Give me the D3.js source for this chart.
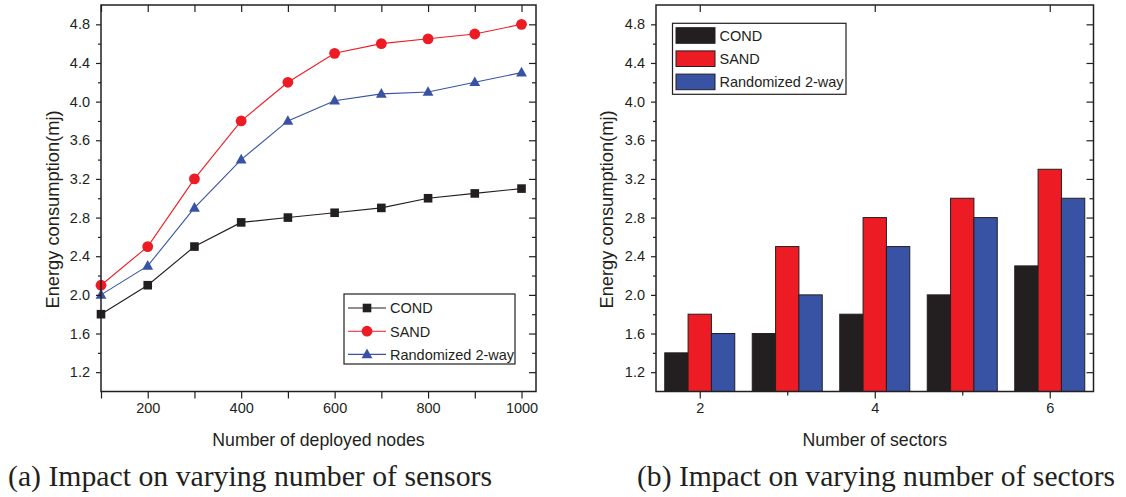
<!DOCTYPE html>
<html><head><meta charset="utf-8">
<script src="https://cdn.jsdelivr.net/npm/d3@7"></script>
<style>
html,body{margin:0;padding:0;background:#fff;}
svg{display:block;}
text{font-family:"Liberation Sans",Arial,sans-serif;fill:#231f20;}
.cap{font-family:"Liberation Serif","Times New Roman",serif;}
</style></head>
<body>
<svg id="chart" width="1126" height="497"></svg>
<script>
// ---------- data ----------
const nodes = [100,200,300,400,500,600,700,800,900,1000];
const condA = [1.8,2.1,2.5,2.75,2.8,2.85,2.9,3.0,3.05,3.1];
const sandA = [2.1,2.5,3.2,3.8,4.2,4.5,4.6,4.65,4.7,4.8];
const randA = [2.0,2.3,2.9,3.4,3.8,4.01,4.08,4.1,4.2,4.3];

const sectors = [2,3,4,5,6];
const condB = [1.4,1.6,1.8,2.0,2.3];
const sandB = [1.8,2.5,2.8,3.0,3.3];
const randB = [1.6,2.0,2.5,2.8,3.0];

const seriesNames = ["COND","SAND","Randomized 2-way"];
const yTickLabels = [1.2,1.6,2.0,2.4,2.8,3.2,3.6,4.0,4.4,4.8];
const yMinor = [1.4,1.8,2.2,2.6,3.0,3.4,3.8,4.2,4.6];
const xTickA = [200,400,600,800,1000];
const xMinorA = [100,300,500,700,900];
const xTickB = [2,4,6];
const xMinorB = [3,5];
const captions = ["(a) Impact on varying number of sensors","(b) Impact on varying number of sectors"];

const colors = ["#231f20","#ed1c24","#3953a4"];
const ink = "#231f20";

const svg = d3.select("#chart");

function frameAxes(g, x, y, xMaj, xMin, xFmt, topMinor){
  const [x0,x1] = x.range(); const [y0,y1] = y.range();
  // bottom
  g.append("g").attr("transform",`translate(0,${y0})`)
    .call(d3.axisBottom(x).tickValues(xMaj).tickSize(7).tickSizeOuter(0).tickFormat(xFmt).tickPadding(4))
    .call(a=>{a.select(".domain").remove(); a.selectAll("text").attr("font-size",14.5).attr("fill",ink);});
  g.append("g").attr("transform",`translate(0,${y0})`)
    .call(d3.axisBottom(x).tickValues(xMin).tickSize(topMinor?7:4).tickFormat(""))
    .call(a=>a.select(".domain").remove());
  // top (inward)
  g.append("g").attr("transform",`translate(0,${y1})`)
    .call(d3.axisTop(x).tickValues(topMinor? xMaj.concat(xMin):xMaj).tickSize(-7).tickFormat(""))
    .call(a=>a.select(".domain").remove());
  // left
  g.append("g").attr("transform",`translate(${x0},0)`)
    .call(d3.axisLeft(y).tickValues(yTickLabels).tickSize(5).tickPadding(6).tickFormat(d3.format(".1f")))
    .call(a=>{a.select(".domain").remove(); a.selectAll("text").attr("font-size",14.5).attr("fill",ink);});
  g.append("g").attr("transform",`translate(${x0},0)`)
    .call(d3.axisLeft(y).tickValues(yMinor).tickSize(3).tickFormat(""))
    .call(a=>a.select(".domain").remove());
  // right (inward)
  g.append("g").attr("transform",`translate(${x1},0)`)
    .call(d3.axisRight(y).tickValues(yTickLabels).tickSize(-7).tickFormat(""))
    .call(a=>a.select(".domain").remove());
  g.append("g").attr("transform",`translate(${x1},0)`)
    .call(d3.axisRight(y).tickValues(yMinor).tickSize(-4).tickFormat(""))
    .call(a=>a.select(".domain").remove());
  g.selectAll(".tick line").attr("stroke",ink).attr("stroke-width",1.2);
  g.append("rect").attr("x",x0).attr("y",y1).attr("width",x1-x0).attr("height",y0-y1)
    .attr("fill","none").attr("stroke",ink).attr("stroke-width",1.5);
}

function symbol(g, kind, cx, cy, color){
  if(kind===0){
    g.append("rect").attr("x",cx-4.3).attr("y",cy-4.3).attr("width",8.6).attr("height",8.6).attr("fill",color);
  } else if(kind===1){
    g.append("circle").attr("cx",cx).attr("cy",cy).attr("r",5.4).attr("fill",color);
  } else {
    g.append("path").attr("d",`M${cx},${cy-5.8}L${cx+5.4},${cy+3.8}L${cx-5.4},${cy+3.8}Z`).attr("fill",color);
  }
}

// ---------- panel (a) ----------
{
  const x = d3.scaleLinear().domain([100,1031]).range([101,536]);
  const y = d3.scaleLinear().domain([1,5]).range([391.5,5]);
  const g = svg.append("g");
  const data = [condA,sandA,randA];
  const line = d3.line().x((d,i)=>x(nodes[i])).y(d=>y(d));
  data.forEach((s,k)=>{
    g.append("path").datum(s).attr("d",line).attr("fill","none").attr("stroke",colors[k]).attr("stroke-width",1.1);
  });
  data.forEach((s,k)=>{
    s.forEach((v,i)=>symbol(g,k,x(nodes[i]),y(v),colors[k]));
  });
  frameAxes(g,x,y,xTickA,xMinorA,d3.format("d"),true);
  // legend
  const lg = g.append("g");
  lg.append("rect").attr("x",344).attr("y",294).attr("width",171).attr("height",70)
    .attr("fill","#fff").attr("stroke",ink).attr("stroke-width",1.2);
  seriesNames.forEach((n,k)=>{
    const cy = 308 + k*23.2;
    lg.append("line").attr("x1",348).attr("x2",386).attr("y1",cy).attr("y2",cy).attr("stroke",colors[k]).attr("stroke-width",1.1);
    symbol(lg,k,367,cy,colors[k]);
    lg.append("text").attr("x",390).attr("y",cy+5.3).attr("font-size",14.5).text(n);
  });
  g.append("text").attr("x",(101+536)/2).attr("y",446).attr("text-anchor","middle").attr("font-size",17.7).text("Number of deployed nodes");
  g.append("text").attr("transform",`translate(59,${209.5}) rotate(-90)`).attr("text-anchor","middle").attr("font-size",18.3).text("Energy consumption(mj)");
  g.append("text").attr("class","cap").attr("x",8).attr("y",486).attr("font-size",29)
    .attr("textLength",484).attr("lengthAdjust","spacingAndGlyphs").text(captions[0]);
}

// ---------- panel (b) ----------
{
  const x = d3.scaleLinear().domain([1.5,6.5]).range([656,1093.5]);
  const y = d3.scaleLinear().domain([1,5]).range([391.5,5]);
  const g = svg.append("g");
  const data = [condB,sandB,randB];
  const bw = 0.8/3;
  data.forEach((s,k)=>{
    g.selectAll(null).data(s).enter().append("rect")
      .attr("x",(d,i)=>x(sectors[i]-0.4+k*bw))
      .attr("width",x(bw)-x(0))
      .attr("y",d=>y(d))
      .attr("height",d=>y(1)-y(d))
      .attr("fill",colors[k]).attr("stroke",ink).attr("stroke-width",1);
  });
  frameAxes(g,x,y,xTickB,xMinorB,d3.format("d"),false);
  const lg = g.append("g");
  lg.append("rect").attr("x",672.5).attr("y",23.3).attr("width",173.5).attr("height",71)
    .attr("fill","#fff").attr("stroke",ink).attr("stroke-width",1.2);
  seriesNames.forEach((n,k)=>{
    const top = 27.7 + k*23.2;
    lg.append("rect").attr("x",676).attr("y",top).attr("width",39).attr("height",15.6)
      .attr("fill",colors[k]).attr("stroke",ink).attr("stroke-width",1);
    lg.append("text").attr("x",719.5).attr("y",top+13.3).attr("font-size",14.5).text(n);
  });
  g.append("text").attr("x",(656+1093.5)/2).attr("y",446).attr("text-anchor","middle").attr("font-size",17.7).text("Number of sectors");
  g.append("text").attr("transform",`translate(${613},${209.5}) rotate(-90)`).attr("text-anchor","middle").attr("font-size",18.3).text("Energy consumption(mj)");
  g.append("text").attr("class","cap").attr("x",637).attr("y",486).attr("font-size",29)
    .attr("textLength",478).attr("lengthAdjust","spacingAndGlyphs").text(captions[1]);
}
</script>
</body></html>
